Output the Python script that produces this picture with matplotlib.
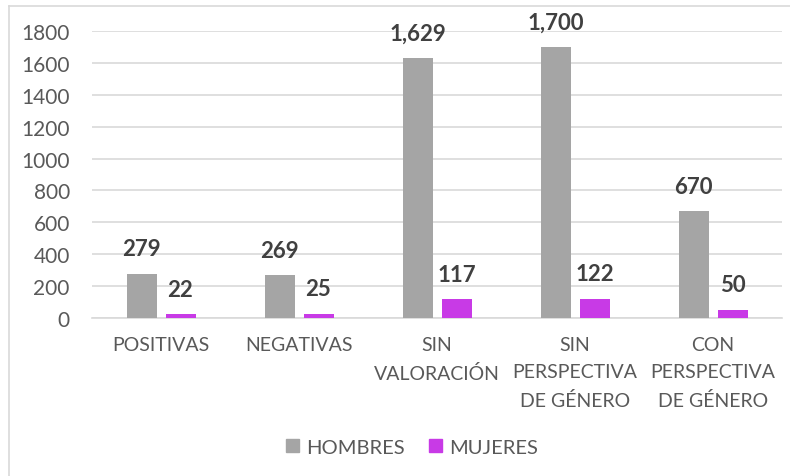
import matplotlib
matplotlib.use("Agg")
import matplotlib.pyplot as plt
import numpy as np
from matplotlib.patches import Rectangle
from matplotlib.lines import Line2D

categories = ["POSITIVAS", "NEGATIVAS", "SIN\nVALORACIÓN", "SIN\nPERSPECTIVA\nDE GÉNERO", "CON\nPERSPECTIVA\nDE GÉNERO"]
hombres = [279, 269, 1629, 1700, 670]
mujeres = [22, 25, 117, 122, 50]
yticks = [0, 200, 400, 600, 800, 1000, 1200, 1400, 1600, 1800]

plt.rcParams['font.family'] = ['Lato', 'DejaVu Sans']

GREY = "#A5A5A5"
MAG = "#C83AE6"
TXT = "#595959"
LBL = "#404040"

fig = plt.figure(figsize=(7.9, 4.77), dpi=100)
ax = fig.add_axes([92/790, 158/477, 690/790, 287/477])

x = np.arange(len(categories))
w = 30/138
off = 19.5/138
ax.bar(x - off, hombres, width=w, color=GREY, label="HOMBRES", zorder=3)
ax.bar(x + off, mujeres, width=w, color=MAG, label="MUJERES", zorder=3)

for xi, v in zip(x - off, hombres):
    ax.annotate(f"{v:,}", (xi, v), xytext=(0, 10.5), textcoords="offset points",
                ha="center", va="bottom", fontsize=16, fontweight="bold", color=LBL)
for xi, v in zip(x + off, mujeres):
    ax.annotate(f"{v:,}", (xi, v), xytext=(0, 10.5), textcoords="offset points",
                ha="center", va="bottom", fontsize=16, fontweight="bold", color=LBL)

ax.set_xlim(-0.5, len(categories) - 0.5)
ax.set_ylim(0, 1800)
ax.set_yticks(yticks)
ax.set_yticklabels([str(t) for t in yticks])
ax.yaxis.grid(True, color="#D9D9D9", linewidth=1.2, zorder=0)
ax.set_axisbelow(True)
for s in ["top", "right", "left"]:
    ax.spines[s].set_visible(False)
ax.spines["bottom"].set_color("#D9D9D9")
ax.spines["bottom"].set_linewidth(1.2)
ax.tick_params(axis="y", length=0, pad=16, labelsize=15, labelcolor=TXT)
ax.tick_params(axis="x", length=0, pad=13, labelsize=14, labelcolor=TXT)
ax.set_xticks(x)
ax.set_xticklabels(categories, linespacing=1.72)

handles = [Rectangle((0, 0), 1, 1, color=GREY), Rectangle((0, 0), 1, 1, color=MAG)]
fig.legend(handles, ["HOMBRES", "MUJERES"], loc="center", bbox_to_anchor=(412/790, 1 - 448/477),
           ncol=2, frameon=False, fontsize=14.5, labelcolor=TXT, handlelength=0.65, handleheight=0.65,
           handletextpad=0.35, columnspacing=1.2)

# chart frame
fig.add_artist(Line2D([9/790, 9/790], [0, 1 - 7/477], transform=fig.transFigure, color="#D9D9D9", lw=1.2))
fig.add_artist(Line2D([9/790, 1], [1 - 7/477, 1 - 7/477], transform=fig.transFigure, color="#D9D9D9", lw=1.2))

fig.savefig("out.png", dpi=100)
